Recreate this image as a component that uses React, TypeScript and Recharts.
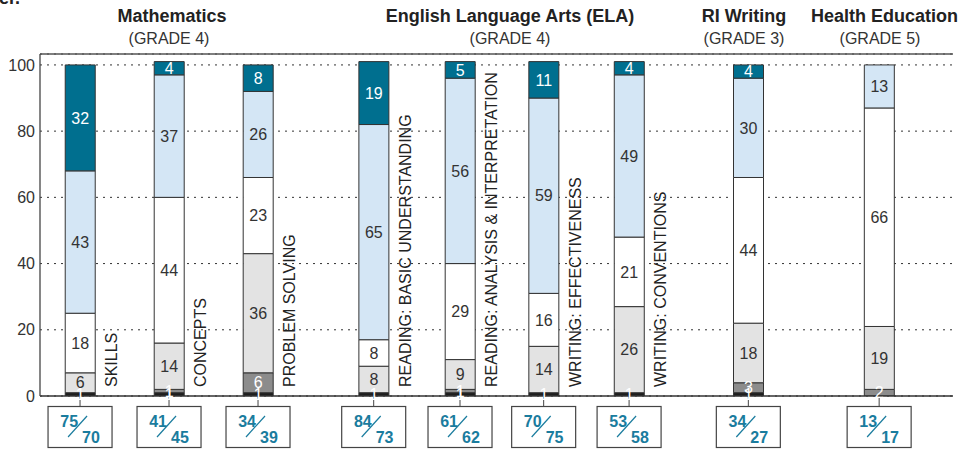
import React from "react";
import {
  BarChart,
  Bar,
  XAxis,
  YAxis,
  CartesianGrid,
  ReferenceLine,
  LabelList,
} from "recharts";

// subtest names (rotated labels beside the bars)
const subtests = [
  "SKILLS",
  "CONCEPTS",
  "PROBLEM SOLVING",
  "READING: BASIC UNDERSTANDING",
  "READING: ANALYSIS & INTERPRETATION",
  "WRITING: EFFECTIVENESS",
  "WRITING: CONVENTIONS",
  "",
  "",
];
// where each bar sits along the x axis (groups are spaced apart)
const slots = [0.45, 1.45, 2.45, 3.75, 4.72, 5.66, 6.62, 7.96, 9.43];

// achievement levels, bottom to top, percent of students
const level1 = [1, 1, 1, 1, 1, 1, 1, 1, 0];
const level2 = [0, 1, 6, 0, 1, 0, 0, 3, 2];
const level3 = [6, 14, 36, 8, 9, 14, 26, 18, 19];
const level4 = [18, 44, 23, 8, 29, 16, 21, 44, 66];
const level5 = [43, 37, 26, 65, 56, 59, 49, 30, 13];
const level6 = [32, 4, 8, 19, 5, 11, 4, 4, 0];

// boxes under the axis: school / state
const schoolPct = [75, 41, 34, 84, 61, 70, 53, 34, 13];
const statePct = [70, 45, 39, 73, 62, 75, 58, 27, 17];

const yTicks = [0, 20, 40, 60, 80, 100];
const yTop = 103.3;

const FONT = '"Liberation Sans", Arial, sans-serif';
const TEAL = "#1a7c9e";
const AXIS_Y = 396;

if (typeof document !== "undefined") {
  document.body.style.margin = "0";
  document.body.style.overflow = "hidden";
}

const data = slots.map((slot, i) => ({
  slot,
  l1: level1[i],
  l2: level2[i],
  l3: level3[i],
  l4: level4[i],
  l5: level5[i],
  l6: level6[i],
}));

const hideZero = (v: any) => (v ? v : "");

const BoxTick = (props: any) => {
  const { x, index } = props;
  const y = AXIS_Y;
  const top = y + 10;
  return (
    <g fontFamily={FONT}>
      {subtests[index] && (
        <text
          x={x + 37}
          y={y - 9}
          transform={`rotate(-90 ${x + 37} ${y - 9})`}
          fontSize={16}
          fill="#222"
        >
          {subtests[index]}
        </text>
      )}
      <line x1={x} y1={y} x2={x} y2={top} stroke="#444" />
      <rect x={x - 32} y={top + 0.5} width={64} height={41} fill="#fff" stroke="#444" strokeWidth={1.2} />
      <text x={x - 2} y={top + 21} textAnchor="end" fontSize={16} fontWeight="bold" fill={TEAL}>
        {schoolPct[index]}
      </text>
      <line x1={x + 7} y1={top + 10} x2={x - 12} y2={top + 31} stroke={TEAL} strokeWidth={1.2} />
      <text x={x + 2} y={top + 37} fontSize={16} fontWeight="bold" fill={TEAL}>
        {statePct[index]}
      </text>
    </g>
  );
};

const segLabel = (key: string, fill: string) => (
  <LabelList
    dataKey={key}
    position="center"
    fill={fill}
    fontSize={16}
    fontFamily={FONT}
    formatter={hideZero}
  />
);

const App = () => {
  return (
    <div style={{ position: "relative", width: 962, height: 451, fontFamily: FONT }}>
      <BarChart
        width={962}
        height={451}
        data={data}
        margin={{ top: 54, right: 9, left: 0, bottom: 25 }}
        barSize={30}
      >
        <CartesianGrid vertical={false} stroke="#333" strokeDasharray="2 5" />
        <XAxis
          dataKey="slot"
          type="number"
          domain={[0, 10.26]}
          ticks={slots}
          interval={0}
          height={30}
          tickLine={false}
          tickSize={0}
          tickMargin={0}
          axisLine={{ stroke: "#333", strokeWidth: 1.3 }}
          tick={(p: any) => <BoxTick {...p} />}
        />
        <YAxis
          domain={[0, yTop]}
          ticks={yTicks}
          width={40}
          tickLine={false}
          tickSize={0}
          tickMargin={5}
          axisLine={{ stroke: "#444", strokeWidth: 1.3 }}
          tick={{ fontSize: 16, fill: "#333", fontFamily: FONT }}
          allowDataOverflow
        />
        <ReferenceLine y={yTop} stroke="#555" strokeWidth={1.5} />
        <Bar dataKey="l1" stackId="a" fill="#1e1e1e" stroke="#333" isAnimationActive={false}>
          {segLabel("l1", "#fff")}
        </Bar>
        <Bar dataKey="l2" stackId="a" fill="#8c8c8c" stroke="#333" isAnimationActive={false}>
          {segLabel("l2", "#fff")}
        </Bar>
        <Bar dataKey="l3" stackId="a" fill="#e3e3e3" stroke="#333" isAnimationActive={false}>
          {segLabel("l3", "#333")}
        </Bar>
        <Bar dataKey="l4" stackId="a" fill="#ffffff" stroke="#333" isAnimationActive={false}>
          {segLabel("l4", "#333")}
        </Bar>
        <Bar dataKey="l5" stackId="a" fill="#d4e6f5" stroke="#333" isAnimationActive={false}>
          {segLabel("l5", "#333")}
        </Bar>
        <Bar dataKey="l6" stackId="a" fill="#006f8f" stroke="#333" isAnimationActive={false}>
          {segLabel("l6", "#fff")}
        </Bar>
      </BarChart>

      {/* group titles */}
      <svg
        width={962}
        height={60}
        style={{ position: "absolute", left: 0, top: 0, pointerEvents: "none" }}
        fontFamily={FONT}
      >
        <text x={-1} y={4} fontSize={18} fontWeight="bold" fill="#222">er.</text>
        <g fontSize={18} fontWeight="bold" fill="#222" textAnchor="middle">
          <text x={172} y={22}>Mathematics</text>
          <text x={510} y={22}>English Language Arts (ELA)</text>
          <text x={744} y={22}>RI Writing</text>
          <text x={811} y={22} textAnchor="start">Health Education</text>
        </g>
        <g fontSize={16} fill="#333" textAnchor="middle">
          <text x={169} y={44}>(GRADE 4)</text>
          <text x={510} y={44}>(GRADE 4)</text>
          <text x={744} y={44}>(GRADE 3)</text>
          <text x={880} y={44}>(GRADE 5)</text>
        </g>
      </svg>
    </div>
  );
};

export default App;
